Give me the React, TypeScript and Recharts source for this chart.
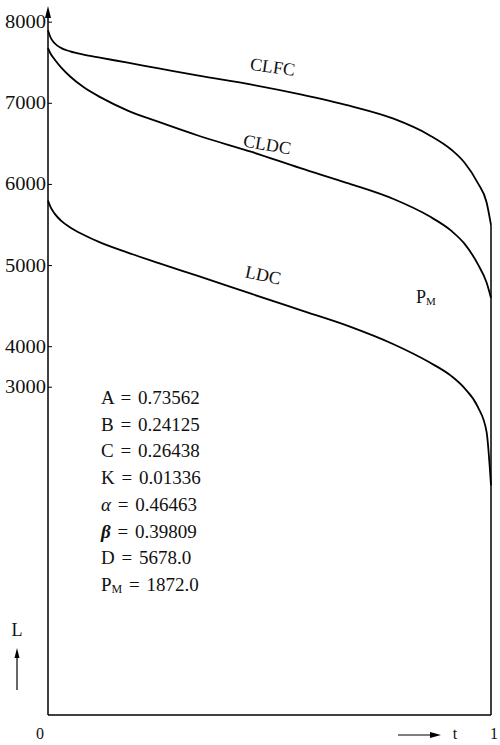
import { Customized, Line, LineChart, ReferenceLine, XAxis, YAxis } from "recharts";

const tValues = [0, 0.005, 0.015, 0.03, 0.05, 0.08, 0.12, 0.18, 0.25, 0.34, 0.46, 0.57, 0.68, 0.78, 0.86, 0.91, 0.94, 0.97, 0.99, 1];
const clfc = [7900, 7820, 7740, 7680, 7640, 7600, 7560, 7500, 7430, 7340, 7230, 7110, 6970, 6810, 6610, 6430, 6270, 6020, 5780, 5500];
const cldc = [7680, 7620, 7540, 7440, 7330, 7200, 7070, 6910, 6770, 6600, 6400, 6200, 6010, 5820, 5610, 5430, 5270, 5020, 4790, 4600];
const ldc = [5800, 5730, 5640, 5550, 5470, 5380, 5280, 5160, 5030, 4870, 4650, 4450, 4250, 4030, 3810, 3640, 3490, 3260, 2950, 2290];

const yTicks = [8000, 7000, 6000, 5000, 4000, 3500];
const yTickLabels = ["8000", "7000", "6000", "5000", "4000", "3000"];
const xTicks = [0, 1];

const params = [
  ["A", "0.73562"],
  ["B", "0.24125"],
  ["C", "0.26438"],
  ["K", "0.01336"],
  ["α", "0.46463"],
  ["β", "0.39809"],
  ["D", "5678.0"],
  ["PM", "1872.0"],
];

const data = tValues.map((t, i) => ({ t, clfc: clfc[i], cldc: cldc[i], ldc: ldc[i] }));

const FONT = "'Liberation Serif', 'DejaVu Serif', serif";

function YTick({ x, y, payload }: any) {
  const idx = yTicks.indexOf(payload.value);
  return (
    <g>
      <line x1={x + 3} x2={x + 7} y1={y} y2={y} stroke="#000" strokeWidth={1} />
      <text
        x={x + 1}
        y={y}
        dy={6}
        textAnchor="end"
        fontSize={18}
        textLength={41}
        lengthAdjust="spacingAndGlyphs"
        fontFamily={FONT}
        fill="#111"
      >
        {yTickLabels[idx]}
      </text>
    </g>
  );
}

function XTick({ x, payload }: any) {
  const dx = payload.value === 0 ? -8 : 3;
  return (
    <text x={x + dx} y={739} textAnchor="middle" fontSize={16} fontFamily={FONT} fill="#111">
      {payload.value}
    </text>
  );
}

function ParamName({ k }: { k: string }) {
  if (k === "PM") {
    return (
      <>
        P<tspan fontSize={12} dy={2}>M</tspan>
        <tspan dy={-2}> </tspan>
      </>
    );
  }
  if (k === "α" || k === "β") {
    return <tspan fontStyle="italic" fontWeight={k === "β" ? "bold" : "normal"}>{k} </tspan>;
  }
  return <>{k} </>;
}

function Overlay() {
  return (
    <g fontFamily={FONT} fill="#111">
      {/* y axis arrow */}
      <polygon points="48,6 45,18 51,18" fill="#000" />
      {/* curve names */}
      <text x={250} y={74} fontSize={18} transform="rotate(8 280 68)">CLFC</text>
      <text x={243} y={152} fontSize={18} transform="rotate(10 275 146)">CLDC</text>
      <text x={245} y={283} fontSize={18} transform="rotate(12 272 277)">LDC</text>
      <text x={416} y={303} fontSize={18}>
        P<tspan fontSize={11} dy={2}>M</tspan>
      </text>
      {/* parameters */}
      {params.map(([k, v], i) => (
        <text key={k} x={101} y={404 + i * 26.7} fontSize={19} style={{ wordSpacing: 2 }}>
          <ParamName k={k} />
          {`= ${v}`}
        </text>
      ))}
      {/* L with up arrow */}
      <text x={17} y={636} fontSize={18} textAnchor="middle">L</text>
      <line x1={17} x2={17} y1={690} y2={656} stroke="#000" strokeWidth={1.2} />
      <polygon points="17,648 14.5,658 19.5,658" fill="#000" />
      {/* t with right arrow */}
      <line x1={398} x2={432} y1={735} y2={735} stroke="#000" strokeWidth={1.2} />
      <polygon points="441,735 430,732 430,738" fill="#000" />
      <text x={455} y={739} fontSize={16} textAnchor="middle">t</text>
    </g>
  );
}

export default function App() {
  return (
    <div style={{ width: 500, height: 745, background: "#fff", overflow: "hidden" }}>
      <style>{"html, body { margin: 0; padding: 0; overflow: hidden; }"}</style>
      <LineChart width={500} height={745} data={data} margin={{ top: 10, right: 9, left: 0, bottom: 0 }}>
        <XAxis
          dataKey="t"
          type="number"
          domain={[0, 1]}
          ticks={xTicks}
          height={30}
          axisLine={{ stroke: "#000", strokeWidth: 1.5 }}
          tickLine={false}
          tick={<XTick />}
        />
        <YAxis
          type="number"
          domain={[-540, 8150]}
          ticks={yTicks}
          width={48}
          axisLine={{ stroke: "#000", strokeWidth: 1.5 }}
          tickLine={false}
          tickSize={0}
          tickMargin={3}
          tick={<YTick />}
        />
        <ReferenceLine
          segment={[
            { x: 1, y: -540 },
            { x: 1, y: clfc[clfc.length - 1] },
          ]}
          stroke="#000"
          strokeWidth={1.5}
        />
        <Line dataKey="clfc" type="monotone" stroke="#000" strokeWidth={1.8} dot={false} isAnimationActive={false} />
        <Line dataKey="cldc" type="monotone" stroke="#000" strokeWidth={1.8} dot={false} isAnimationActive={false} />
        <Line dataKey="ldc" type="monotone" stroke="#000" strokeWidth={1.8} dot={false} isAnimationActive={false} />
        <Customized component={<Overlay />} />
      </LineChart>
    </div>
  );
}
